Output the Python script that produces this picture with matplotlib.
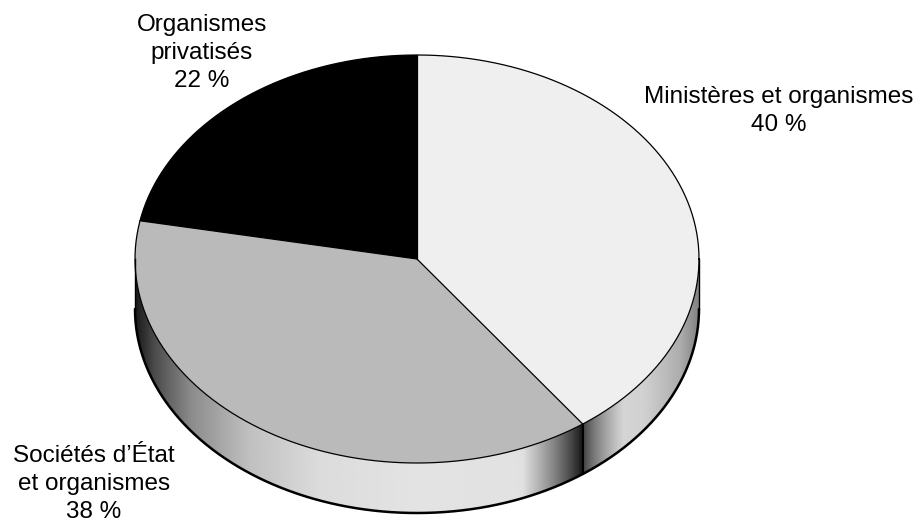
''' 3D style pie chart of the share of each group'''

import numpy as np
import matplotlib
matplotlib.use('Agg')
import matplotlib.pyplot as plt
from matplotlib.patches import Polygon

# chart data
labels = ['Ministères et organismes\n40 %',
          'Sociétés d\u2019État\net organismes\n38 %',
          'Organismes\nprivatisés\n22 %']
shares = [40, 38, 22]
top_colors = ['#efefef', '#bababa', '#000000']

# pie geometry in pixels
cx, cy = 417, 259
rx, ry = 282, 204
depth = 50
start_angle = 90

label_pos = [(779, 111), (94, 484), (202, 53)]

plt.rcParams['font.family'] = ['Liberation Sans', 'DejaVu Sans']

fig = plt.figure(figsize=(9.2, 5.29), dpi=100)
ax = fig.add_axes([0, 0, 1, 1])
ax.set_xlim(0, 920)
ax.set_ylim(529, 0)
ax.axis('off')


def pt(t, dy=0):
    r = np.radians(t)
    return cx + rx * np.cos(r), cy - ry * np.sin(r) + dy


def base_shade(x):
    u = (x - cx) / rx
    return np.interp(u, [-1.0, -0.93, -0.8, -0.6, -0.35, 0.0, 0.5, 0.8, 0.93, 1.0],
                        [0.10, 0.30, 0.55, 0.75, 0.86, 0.89, 0.88, 0.82, 0.68, 0.50])


# slice angles, clockwise from the top
bounds = [start_angle]
for s in shares:
    bounds.append(bounds[-1] - 360 * s / sum(shares))

# sides of the visible front part
side_x = []
for i in range(len(shares)):
    t1, t0 = bounds[i + 1], bounds[i]
    for shift in (0, 360, -360):
        lo = max(t1 + shift, -180)
        hi = min(t0 + shift, 0)
        if hi > lo:
            side_x.append((i, lo, hi))

inner = [t for i, lo, hi in side_x for t in (lo, hi) if -180 < t < 0]

for i, lo, hi in side_x:
    ts = np.linspace(hi, lo, 200)
    top = np.array([pt(t) for t in ts])
    bot = np.array([pt(t, depth) for t in ts[::-1]])
    poly = Polygon(np.vstack([top, bot]), closed=True, facecolor='none', edgecolor='none')
    ax.add_patch(poly)
    x0, x1 = pt(lo)[0], pt(hi)[0]
    xs = np.linspace(x0, x1, 400)
    shade = base_shade(xs)
    # darken next to the joint with the neighbour slice
    if -180 < hi < 0:
        d = np.clip((x1 - xs) / 60, 0, 1)
        shade = shade * (0.08 + 0.92 * d ** 0.8)
    if -180 < lo < 0:
        d = np.clip((xs - x0) / 40, 0, 1)
        shade = shade * (0.25 + 0.75 * d ** 0.7)
    img = np.tile(shade, (10, 1))
    im = ax.imshow(img, cmap='gray', vmin=0, vmax=1, aspect='auto',
                   extent=[x0, x1, cy + ry + depth + 2, cy - 2], interpolation='bilinear')
    im.set_clip_path(poly)

# side outlines
ts = np.linspace(-180, 0, 400)
bot = np.array([pt(t, depth) for t in ts])
ax.plot(bot[:, 0], bot[:, 1], color='black', lw=1.8, solid_capstyle='round')
for t in (-180, 0):
    x, y = pt(t)
    ax.plot([x, x], [y, y + depth], color='black', lw=1.0)
for t in inner:
    x, y = pt(t)
    ax.plot([x, x], [y, y + depth], color='black', lw=1.4)

# top face
for i in range(len(shares)):
    ts = np.linspace(bounds[i], bounds[i + 1], 200)
    arc = np.array([pt(t) for t in ts])
    ax.add_patch(Polygon(np.vstack([[cx, cy], arc]), closed=True,
                         facecolor=top_colors[i], edgecolor='none'))
for b in bounds[:-1]:
    x, y = pt(b)
    ax.plot([cx, x], [cy, y], color='black', lw=0.9)
ts = np.linspace(0, 360, 600)
rim = np.array([pt(t) for t in ts])
ax.plot(rim[:, 0], rim[:, 1], color='black', lw=0.9)

for lab, (x, y) in zip(labels, label_pos):
    ax.text(x, y, lab, ha='center', va='center', fontsize=17.5, linespacing=1.35)

fig.savefig('out.png', dpi=100)
